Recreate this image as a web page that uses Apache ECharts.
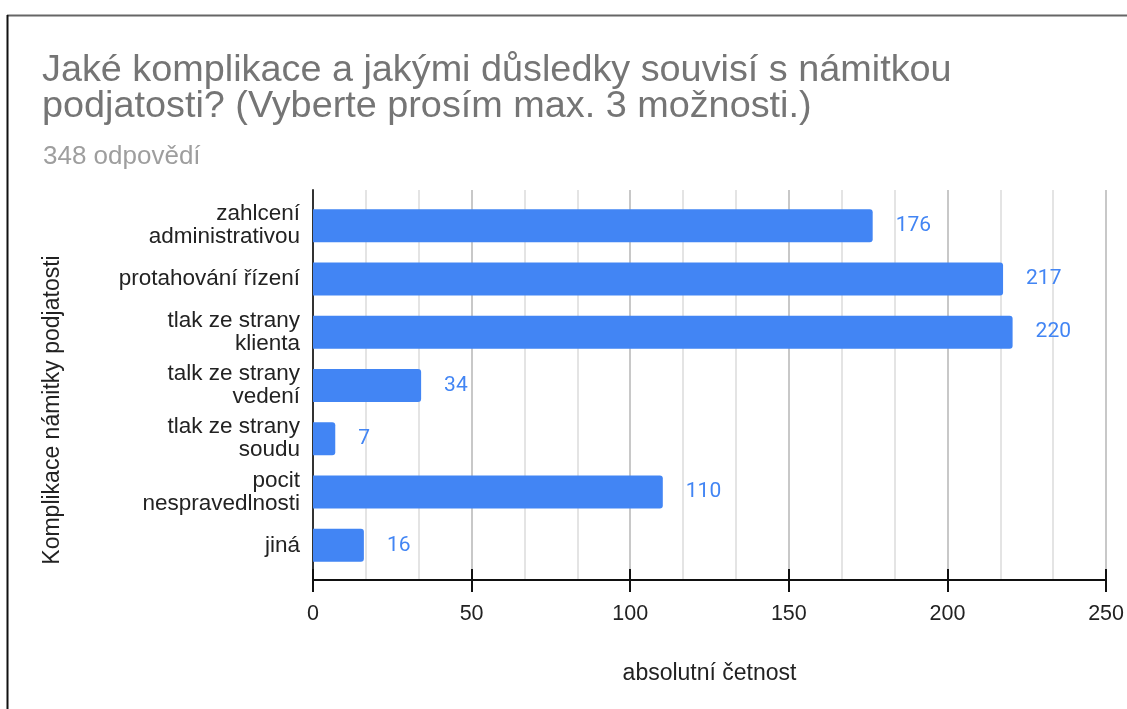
<!DOCTYPE html>
<html>
<head>
<meta charset="utf-8">
<script src="https://cdn.jsdelivr.net/npm/echarts@6/dist/echarts.min.js"></script>
<style>
  html, body { margin: 0; padding: 0; background: #fff; }
  #main { width: 1127px; height: 709px; }
</style>
</head>
<body>
<div id="main"></div>
<script>
// kategorie a hodnoty
var categories = [
    'zahlcení\nadministrativou',
    'protahování řízení',
    'tlak ze strany\nklienta',
    'talk ze strany\nvedení',
    'tlak ze strany\nsoudu',
    'pocit\nnespravedlnosti',
    'jiná'
];
var values = [176, 217, 220, 34, 7, 110, 16];
var xTicks = [0, 50, 100, 150, 200, 250];

var chart = echarts.init(document.getElementById('main'));

var option = {
    animation: false,
    title: [{
        text: 'Jaké komplikace a jakými důsledky souvisí s námitkou\npodjatosti? (Vyberte prosím max. 3 možnosti.)',
        left: 37, top: 48,
        textStyle: { fontFamily: 'Liberation Sans', fontSize: 37.8, fontWeight: 'normal', color: '#757575', lineHeight: 36 }
    }, {
        text: '348 odpovědí',
        left: 38, top: 139,
        textStyle: { fontFamily: 'Liberation Sans', fontSize: 26, fontWeight: 'normal', color: '#9e9e9e', lineHeight: 26 }
    }],
    grid: [
        { left: 313, width: 795, top: 190, height: 390 },   // osy a mřížka
        { left: 313, width: 795, top: 199, height: 373 }    // sloupce
    ],
    xAxis: [{
        gridIndex: 0, type: 'value', min: xTicks[0], max: xTicks[xTicks.length - 1], interval: 50,
        axisLine: { show: true, lineStyle: { color: '#111', width: 2 } },
        axisTick: { show: true, length: 12, lineStyle: { color: '#111', width: 2 } },
        axisLabel: { fontFamily: 'Liberation Sans', fontSize: 21.5, color: '#222', margin: 23 },
        splitLine: { show: true, lineStyle: { color: '#c8c8c8', width: 2 } },
        minorTick: { show: false, splitNumber: 3 },
        minorSplitLine: { show: true, lineStyle: { color: '#e4e4e4', width: 2 } },
        name: 'absolutní četnost', nameLocation: 'middle', nameGap: 82,
        nameTextStyle: { fontFamily: 'Liberation Sans', fontSize: 23, color: '#222' }
    }, {
        // vnitřní značky nad osou
        gridIndex: 0, type: 'value', min: 0, max: 250, interval: 50, position: 'bottom',
        axisLine: { show: false },
        axisTick: { show: true, inside: true, length: 11, lineStyle: { color: '#111', width: 2 } },
        axisLabel: { show: false }, splitLine: { show: false }
    }, {
        gridIndex: 1, type: 'value', min: 0, max: 250, show: false
    }],
    yAxis: [{
        gridIndex: 0, type: 'category', data: [''],
        axisLine: { show: true, lineStyle: { color: '#333', width: 2 } },
        axisTick: { show: false }, axisLabel: { show: false }
    }, {
        gridIndex: 1, type: 'category', data: categories, inverse: true,
        axisLine: { show: false }, axisTick: { show: false },
        axisLabel: { fontFamily: 'Liberation Sans', fontSize: 22.5, color: '#222', margin: 13, lineHeight: 23, align: 'right' }
    }],
    graphic: [
        { type: 'line', shape: { x1: 7, y1: 15.5, x2: 1127, y2: 15.5 }, style: { stroke: '#666', lineWidth: 2 } },
        { type: 'line', shape: { x1: 7.5, y1: 15, x2: 7.5, y2: 709 }, style: { stroke: '#111', lineWidth: 2 } },
        {
            type: 'text', x: 53, y: 410, rotation: Math.PI / 2,
            style: { text: 'Komplikace námitky podjatosti', fontFamily: 'Liberation Sans', fontSize: 23, fill: '#222', align: 'center', verticalAlign: 'middle' }
        }
    ],
    series: [{
        type: 'bar', xAxisIndex: 2, yAxisIndex: 1,
        data: values,
        barWidth: 33,
        itemStyle: { color: '#4285f4', borderRadius: [0, 3, 3, 0] },
        label: { show: true, position: 'right', distance: 23, fontFamily: 'Roboto', fontSize: 21, color: '#4285f4' }
    }]
};

chart.setOption(option);
</script>
</body>
</html>
